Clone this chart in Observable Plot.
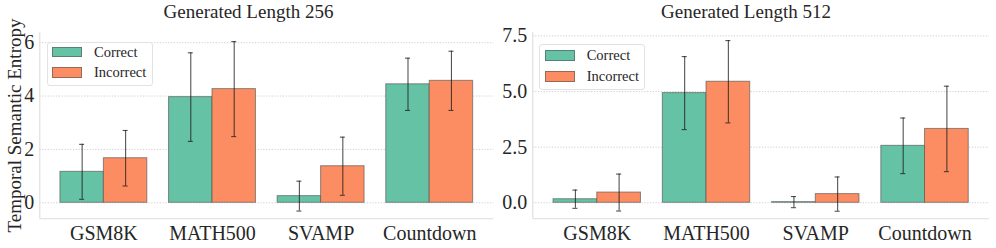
<!DOCTYPE html>
<html>
<head>
<meta charset="utf-8">
<script src="https://cdn.jsdelivr.net/npm/d3@7"></script>
<script src="https://cdn.jsdelivr.net/npm/@observablehq/plot@0.6"></script>
<style>
  html, body { margin: 0; padding: 0; background: #fff; }
  #root { position: relative; width: 996px; height: 248px; overflow: hidden; font-family: "Liberation Serif", "DejaVu Serif", serif; color: #262626; }
  #root svg { position: absolute; top: 0; }
  .title { position: absolute; width: 300px; text-align: center; font-size: 19px; line-height: 19px; white-space: nowrap; }
  .ylabel { position: absolute; width: 260px; text-align: center; font-size: 19px; line-height: 19px; white-space: nowrap; transform: rotate(-90deg); }
  .legend { position: absolute; border: 1px solid #e2e2e2; border-radius: 3px; background: rgba(255,255,255,0.85); box-sizing: border-box; }
  .legend .sw { position: absolute; box-sizing: border-box; border: 1px solid rgba(80,80,80,0.6); }
  .legend .lb { position: absolute; font-size: 14.5px; line-height: 16px; white-space: nowrap; }
</style>
</head>
<body>
<div id="root"></div>
<script>
const categories = ["GSM8K", "MATH500", "SVAMP", "Countdown"];
const seriesNames = ["Correct", "Incorrect"];
const seriesColors = ["#66c2a5", "#fc8d62"];

// Generated Length 256
const mean256Correct   = [1.16, 3.96, 0.25, 4.44];
const mean256Incorrect = [1.67, 4.26, 1.37, 4.57];
const std256Correct    = [1.03, 1.66, 0.56, 0.98];
const std256Incorrect  = [1.04, 1.78, 1.09, 1.11];

// Generated Length 512
const mean512Correct   = [0.16, 4.93, 0.03, 2.56];
const mean512Incorrect = [0.46, 5.44, 0.39, 3.32];
const std512Correct    = [0.41, 1.64, 0.25, 1.25];
const std512Incorrect  = [0.83, 1.85, 0.77, 1.92];

const yTicks256 = [0, 2, 4, 6];
const yTicks512 = [0, 2.5, 5, 7.5];
const titles = ["Generated Length 256", "Generated Length 512"];
const yLabel = "Temporal Semantic Entropy";

const SERIF = "'Liberation Serif', 'Times New Roman', serif";

function buildData(means, stds) {
  const rows = [];
  categories.forEach((c, i) => {
    seriesNames.forEach((s, j) => {
      rows.push({cat: c, idx: i, series: s, center: i + (j === 0 ? -0.2 : 0.2), mean: means[j][i], std: stds[j][i]});
    });
  });
  return rows;
}

function panel({data, yDomain, yTicks, fmt, width, marginLeft, marginRight}) {
  const xDomain = [-0.59, 3.59];
  const cap = 0.023;
  const svg = Plot.plot({
    width, height: 248,
    marginTop: 32.3, marginBottom: 29.7, marginLeft, marginRight,
    style: {fontFamily: SERIF, fontSize: "20px", color: "#262626", background: "transparent", overflow: "visible"},
    x: {type: "linear", domain: xDomain, axis: null},
    y: {domain: yDomain, axis: null},
    color: {domain: seriesNames, range: seriesColors},
    marks: [
      Plot.ruleY(yTicks, {stroke: "#c8c8c8", strokeDasharray: "1.2,1.6", strokeWidth: 0.9}),
      Plot.ruleX([xDomain[0]], {stroke: "#dddddd", strokeWidth: 1.1}),
      Plot.ruleY([yDomain[0]], {stroke: "#dddddd", strokeWidth: 1.1}),
      Plot.rectY(data, {x1: d => d.center - 0.2, x2: d => d.center + 0.2, y1: 0, y2: "mean", fill: "series", stroke: "#555", strokeOpacity: 0.65, strokeWidth: 1}),
      Plot.ruleX(data, {x: "center", y1: d => d.mean - d.std, y2: d => d.mean + d.std, stroke: "#1a1a1a", strokeOpacity: 0.75, strokeWidth: 1.1}),
      Plot.ruleY(data, {y: d => d.mean - d.std, x1: d => d.center - cap, x2: d => d.center + cap, stroke: "#1a1a1a", strokeOpacity: 0.75, strokeWidth: 1.1}),
      Plot.ruleY(data, {y: d => d.mean + d.std, x1: d => d.center - cap, x2: d => d.center + cap, stroke: "#1a1a1a", strokeOpacity: 0.75, strokeWidth: 1.1}),
      // y tick labels
      Plot.text(yTicks, {x: xDomain[0], y: d => d, text: d => fmt(d), textAnchor: "end", dx: -5.5, fontFamily: SERIF, fontSize: 20, fill: "#262626"}),
      // x tick labels
      Plot.text(categories, {x: (d, i) => i, frameAnchor: "bottom", text: d => d, lineAnchor: "top", dy: 6.5, fontFamily: SERIF, fontSize: 20, fill: "#262626"})
    ]
  });
  svg.querySelectorAll("text").forEach(t => t.style.setProperty("font-family", SERIF, "important"));
  return svg;
}

const root = document.getElementById("root");

const left = panel({
  data: buildData([mean256Correct, mean256Incorrect], [std256Correct, std256Incorrect]),
  yDomain: [-0.6, 6.37], yTicks: yTicks256, fmt: d3.format("d"),
  width: 496, marginLeft: 39.3, marginRight: 2.7
});
left.style.left = "0px";
root.appendChild(left);

const right = panel({
  data: buildData([mean512Correct, mean512Incorrect], [std512Correct, std512Incorrect]),
  yDomain: [-0.72, 7.64], yTicks: yTicks512, fmt: d3.format(".1f"),
  width: 500, marginLeft: 36.3, marginRight: 7
});
right.style.left = "496px";
root.appendChild(right);

// titles
[[titles[0], 248.5], [titles[1], 746]].forEach(([t, cx]) => {
  const d = document.createElement("div");
  d.className = "title";
  d.textContent = t;
  d.style.left = (cx - 150) + "px";
  d.style.top = "1.5px";
  root.appendChild(d);
});

// y label
const yl = document.createElement("div");
yl.className = "ylabel";
yl.textContent = yLabel;
yl.style.left = (13.6 - 130) + "px";
yl.style.top = (125.5 - 9.5) + "px";
root.appendChild(yl);

// legends
function legend(box, sw, textX) {
  const L = document.createElement("div");
  L.className = "legend";
  L.style.left = box[0] + "px"; L.style.top = box[1] + "px";
  L.style.width = (box[2] - box[0]) + "px"; L.style.height = (box[3] - box[1]) + "px";
  root.appendChild(L);
  seriesNames.forEach((s, j) => {
    const r = sw[j];
    const p = document.createElement("div");
    p.className = "sw";
    p.style.left = (r[0] - box[0] - 1) + "px"; p.style.top = (r[1] - box[1] - 1) + "px";
    p.style.width = (r[2] - r[0]) + "px"; p.style.height = (r[3] - r[1]) + "px";
    p.style.background = seriesColors[j];
    L.appendChild(p);
    const t = document.createElement("div");
    t.className = "lb";
    t.textContent = s;
    t.style.left = (textX - box[0] - 1) + "px";
    t.style.top = ((r[1] + r[3]) / 2 - 8 - box[1] - 1) + "px";
    L.appendChild(t);
  });
}
legend([46.7, 41.7, 152.7, 86], [[52.3, 46.7, 81.7, 57.3], [52.3, 67.3, 81.7, 77.7]], 94);
legend([539.3, 44.3, 645, 90], [[545.3, 50, 575, 60.7], [545.3, 71, 575, 81.7]], 586.7);
</script>
</body>
</html>
